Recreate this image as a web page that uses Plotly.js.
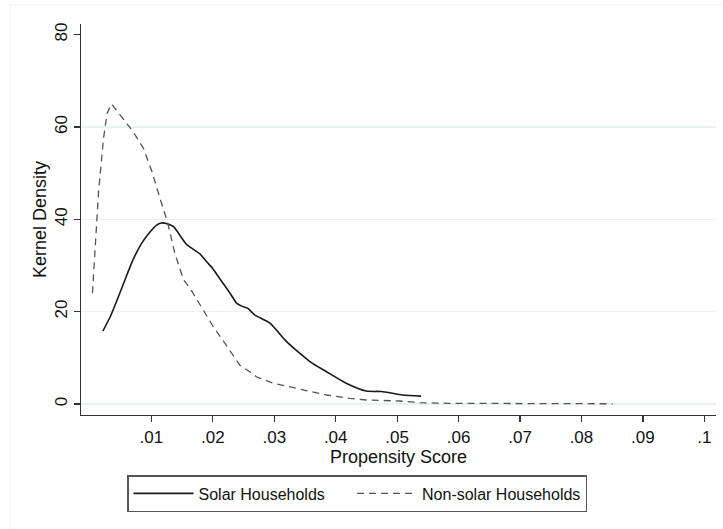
<!DOCTYPE html>
<html>
<head>
<meta charset="utf-8">
<script src="https://cdn.plot.ly/plotly-3.0.1.min.js"></script>
<style>html,body{margin:0;padding:0;background:#fff;}#chart{width:723px;height:529px;}</style>
</head>
<body>
<div id="chart"></div>
<script>
// Solar households kernel density
const solarX = [0.0021, 0.0033, 0.0045, 0.0057, 0.0070, 0.0084, 0.0098, 0.0108, 0.0116, 0.0124, 0.0136, 0.0157, 0.0179, 0.0190, 0.0200, 0.0211, 0.0228, 0.0239, 0.0247, 0.0257, 0.0268, 0.0293, 0.0320, 0.0358, 0.0385, 0.0417, 0.0450, 0.0474, 0.0509, 0.0539];
const solarY = [15.8, 18.9, 22.8, 26.9, 31.2, 34.8, 37.3, 38.7, 39.2, 39.1, 38.4, 34.6, 32.5, 30.8, 29.3, 27.2, 24.0, 21.8, 21.2, 20.7, 19.3, 17.5, 13.5, 9.2, 7.0, 4.5, 2.8, 2.7, 1.95, 1.7];
// Non-solar households kernel density
const nonSolarX = [0.0004, 0.0014, 0.0022, 0.0028, 0.0035, 0.0050, 0.0070, 0.0087, 0.0101, 0.0114, 0.0126, 0.0138, 0.0152, 0.0165, 0.0179, 0.0200, 0.0222, 0.0244, 0.0260, 0.0271, 0.0298, 0.0341, 0.0385, 0.0423, 0.0450, 0.0504, 0.0537, 0.0585, 0.0650, 0.0750, 0.0851];
const nonSolarY = [24.0, 46.0, 57.5, 63.0, 65.0, 62.5, 59.0, 55.4, 50.3, 44.5, 39.5, 32.7, 27.0, 24.6, 21.4, 16.9, 12.7, 8.4, 7.0, 5.9, 4.5, 3.2, 1.95, 1.2, 0.87, 0.65, 0.3, 0.15, 0.1, 0.05, 0.05];
// Axis ticks
const xTickVals = [0.01, 0.02, 0.03, 0.04, 0.05, 0.06, 0.07, 0.08, 0.09, 0.1];
const xTickText = ['.01', '.02', '.03', '.04', '.05', '.06', '.07', '.08', '.09', '.1'];
const yTickVals = [0, 20, 40, 60, 80];
const yGridVals = [0, 20, 40, 60];
const seriesNames = ['Solar Households', 'Non-solar Households'];

const font = 'Liberation Sans, Arial, sans-serif';
const legendPad = '\u00a0\u00a0\u00a0\u00a0\u00a0';

const traces = [
  {x: solarX, y: solarY, type: 'scatter', mode: 'lines', name: seriesNames[0] + legendPad,
   line: {color: '#1a1a1a', width: 1.6, shape: 'spline', smoothing: 0.6}},
  {x: nonSolarX, y: nonSolarY, type: 'scatter', mode: 'lines', name: seriesNames[1],
   line: {color: '#555555', width: 1.3, dash: '7px,5px'}},
  {x: [null], y: [null], yaxis: 'y2', showlegend: false, hoverinfo: 'skip'}
];

const layout = {
  width: 723, height: 529,
  margin: {l: 81, r: 7, t: 24, b: 114},
  paper_bgcolor: '#ffffff', plot_bgcolor: '#ffffff',
  font: {family: font, color: '#111'},
  showlegend: true,
  xaxis: {
    range: [-0.00146, 0.1019], tickvals: xTickVals, ticktext: xTickText,
    showgrid: false, zeroline: false, showline: true, linecolor: '#333', linewidth: 1.3,
    ticks: 'outside', ticklen: 6, tickcolor: '#333', tickwidth: 1.3,
    tickfont: {size: 17, family: font, color: '#111'},
    title: {text: 'Propensity Score', font: {size: 18, family: font, color: '#111'}, standoff: 2}
  },
  yaxis: {
    range: [-2.38, 82.3], tickvals: yTickVals, ticktext: yTickVals.map(String),
    showgrid: false, zeroline: false, showline: true, linecolor: '#333', linewidth: 1.3,
    ticks: 'outside', ticklen: 6, tickcolor: '#333', tickwidth: 1.3, tickangle: -90,
    tickfont: {size: 17, family: font, color: '#111'},
    title: {text: 'Kernel Density', font: {size: 18, family: font, color: '#111'}, standoff: 0}
  },
  yaxis2: {
    overlaying: 'y', range: [-2.38, 82.3], tickvals: yGridVals, showticklabels: false,
    showgrid: true, gridcolor: '#e9f1f2', gridwidth: 1.5, zeroline: false, showline: false, ticks: ''
  },
  legend: {
    orientation: 'h', xref: 'container', yref: 'container',
    x: 127/723, y: 1 - 475/529, xanchor: 'left', yanchor: 'top',
    bordercolor: '#555', borderwidth: 1.5, bgcolor: '#fff',
    font: {size: 16, family: font, color: '#111'},
    itemwidth: 60
  },
  shapes: [
    {type: 'rect', xref: 'paper', yref: 'paper', x0: -0.1118, x1: 1.05, y0: -0.35, y1: 1.0486,
     line: {color: '#f2f2f2', width: 1}, layer: 'below'}
  ]
};

Plotly.newPlot('chart', traces, layout, {displayModeBar: false, staticPlot: true});
</script>
</body>
</html>
